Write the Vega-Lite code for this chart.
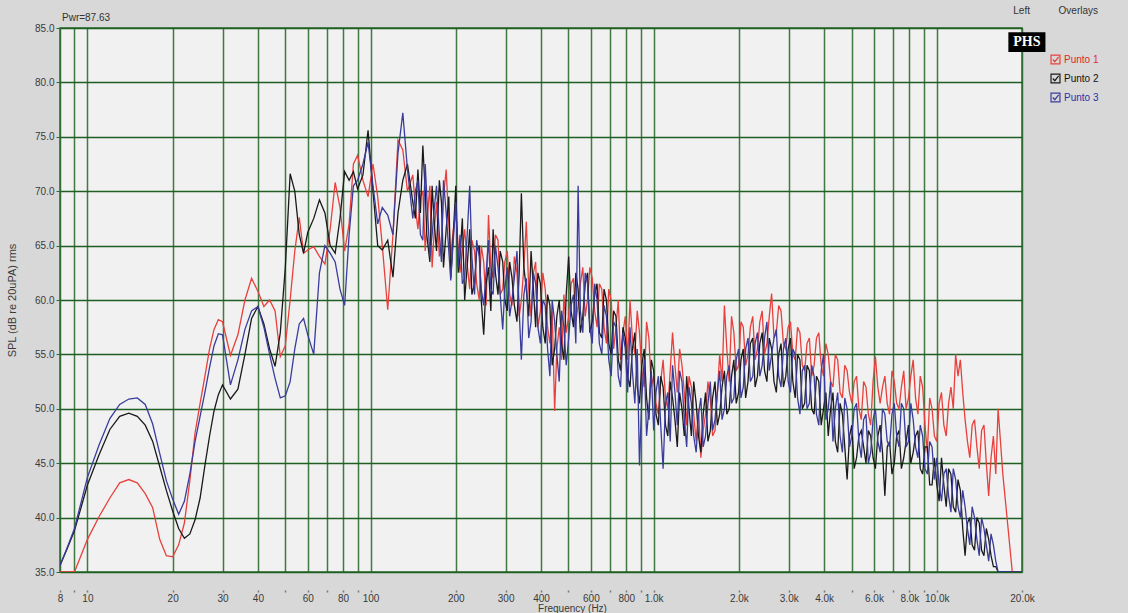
{
"$schema": "https://vega.github.io/schema/vega-lite/v6.json",
"width": 962, "height": 544,
"autosize": "none",
"padding": {"left": 60, "top": 28, "right": 106, "bottom": 41},
"background": "#d8d8d8",
"config": {"view": {"fill": "#f1f1f1", "stroke": "#2e6b30", "strokeWidth": 1.5}, "font": "Liberation Sans"},
"layer": [
{
"data": {"values": [
{"f":8,"a":35,"b":35.6,"c":35.6},
{"f":8.5,"a":35,"b":37.2,"c":37.3},
{"f":9,"a":35,"b":38.8,"c":39.0},
{"f":10,"a":38.0,"b":43.0,"c":43.7},
{"f":11,"a":40.1,"b":45.8,"c":46.7},
{"f":12,"a":41.8,"b":48.1,"c":49.1},
{"f":13,"a":43.2,"b":49.3,"c":50.4},
{"f":14,"a":43.5,"b":49.6,"c":50.9},
{"f":15,"a":43.2,"b":49.3,"c":51.0},
{"f":16,"a":42.2,"b":48.5,"c":50.4},
{"f":17,"a":40.9,"b":47.0,"c":48.6},
{"f":18,"a":38.0,"b":44.7,"c":45.9},
{"f":19,"a":36.5,"b":42.5,"c":43.4},
{"f":20,"a":36.4,"b":40.6,"c":41.7},
{"f":21,"a":37.5,"b":39.0,"c":40.3},
{"f":22,"a":39.5,"b":38.1,"c":41.5},
{"f":23,"a":43.4,"b":38.5,"c":44.0},
{"f":24,"a":47.8,"b":39.8,"c":47.0},
{"f":25,"a":50.5,"b":41.8,"c":49.3},
{"f":26,"a":53.0,"b":44.8,"c":51.5},
{"f":27,"a":55.5,"b":47.5,"c":53.8},
{"f":28,"a":57.3,"b":49.8,"c":55.8},
{"f":29,"a":58.2,"b":51.3,"c":56.9},
{"f":30,"a":58.0,"b":52.2,"c":56.8},
{"f":32,"a":54.9,"b":50.9,"c":52.2},
{"f":34,"a":56.8,"b":51.8,"c":54.5},
{"f":36,"a":60.0,"b":55.0,"c":57.3},
{"f":38,"a":62.0,"b":58.3,"c":59.0},
{"f":40,"a":60.8,"b":59.4,"c":59.4},
{"f":42,"a":59.4,"b":57.8,"c":57.5},
{"f":44,"a":60.0,"b":55.5,"c":55.0},
{"f":46,"a":59.0,"b":53.9,"c":52.8},
{"f":48,"a":54.8,"b":57.0,"c":51.0},
{"f":50,"a":55.8,"b":63.0,"c":51.2},
{"f":52,"a":60.0,"b":71.6,"c":52.5},
{"f":54,"a":64.5,"b":70.0,"c":55.5},
{"f":56,"a":67.6,"b":66.0,"c":57.8},
{"f":58,"a":64.3,"b":64.3,"c":58.3},
{"f":60,"a":64.6,"b":66.2,"c":56.8},
{"f":63,"a":64.9,"b":67.5,"c":55.0},
{"f":66,"a":64.0,"b":69.2,"c":62.5},
{"f":69,"a":63.3,"b":68.0,"c":65.0},
{"f":72,"a":66.5,"b":65.0,"c":64.3},
{"f":75,"a":70.8,"b":64.3,"c":63.5},
{"f":78,"a":68.5,"b":67.5,"c":61.0},
{"f":81,"a":64.5,"b":71.8,"c":59.5},
{"f":84,"a":67.0,"b":71.0,"c":66.0},
{"f":87,"a":72.5,"b":71.8,"c":70.5},
{"f":90,"a":73.3,"b":70.2,"c":71.0},
{"f":94,"a":71.0,"b":71.5,"c":72.5},
{"f":98,"a":69.5,"b":75.6,"c":74.5},
{"f":102,"a":72.5,"b":70.0,"c":70.5},
{"f":106,"a":69.5,"b":65.0,"c":67.0},
{"f":110,"a":65.0,"b":64.6,"c":68.5},
{"f":115,"a":59.1,"b":65.5,"c":67.8},
{"f":120,"a":66.0,"b":62.1,"c":66.0},
{"f":125,"a":74.7,"b":68.0,"c":73.5},
{"f":130,"a":73.8,"b":71.0,"c":77.2},
{"f":135,"a":70.0,"b":72.5,"c":72.0},
{"f":141,"a":71.5,"b":69.0,"c":67.5},
{"f":144,"a":68.5,"b":67.5,"c":70.0},
{"f":147,"a":66.5,"b":72.0,"c":71.0},
{"f":150,"a":69.5,"b":68.0,"c":66.0},
{"f":153,"a":70.0,"b":74.2,"c":65.5},
{"f":156,"a":64.5,"b":70.0,"c":72.5},
{"f":158,"a":67.0,"b":66.0,"c":69.5},
{"f":162,"a":70.5,"b":63.5,"c":64.0},
{"f":165,"a":63.0,"b":70.5,"c":66.0},
{"f":168,"a":66.5,"b":67.0,"c":68.5},
{"f":171,"a":69.0,"b":64.5,"c":70.5},
{"f":175,"a":64.0,"b":71.0,"c":66.0},
{"f":178,"a":65.5,"b":69.0,"c":63.5},
{"f":181,"a":69.5,"b":63.0,"c":71.0},
{"f":185,"a":72.0,"b":66.5,"c":68.0},
{"f":189,"a":67.0,"b":69.5,"c":64.5},
{"f":192,"a":64.0,"b":62.0,"c":61.8},
{"f":196,"a":66.5,"b":66.0,"c":65.5},
{"f":200,"a":68.0,"b":70.5,"c":69.0},
{"f":204,"a":65.0,"b":62.5,"c":63.0},
{"f":207,"a":62.5,"b":64.0,"c":66.0},
{"f":211,"a":64.5,"b":67.5,"c":61.5},
{"f":215,"a":66.5,"b":60.0,"c":62.0},
{"f":220,"a":63.0,"b":63.5,"c":66.5},
{"f":224,"a":61.0,"b":66.5,"c":70.5},
{"f":228,"a":65.5,"b":60.5,"c":64.0},
{"f":233,"a":64.5,"b":61.5,"c":60.5},
{"f":237,"a":61.5,"b":64.5,"c":65.5},
{"f":242,"a":60.0,"b":65.0,"c":64.0},
{"f":246,"a":65.0,"b":60.0,"c":61.0},
{"f":251,"a":63.5,"b":56.8,"c":59.5},
{"f":256,"a":59.5,"b":61.5,"c":62.5},
{"f":261,"a":67.8,"b":63.0,"c":65.5},
{"f":266,"a":63.0,"b":59.0,"c":61.0},
{"f":271,"a":62.0,"b":66.5,"c":60.5},
{"f":276,"a":66.0,"b":62.5,"c":65.0},
{"f":282,"a":65.5,"b":60.5,"c":63.0},
{"f":287,"a":60.5,"b":64.5,"c":60.5},
{"f":293,"a":61.0,"b":63.5,"c":57.3},
{"f":298,"a":63.5,"b":60.0,"c":61.0},
{"f":304,"a":64.5,"b":59.0,"c":63.0},
{"f":310,"a":60.5,"b":63.5,"c":58.5},
{"f":316,"a":59.5,"b":62.0,"c":60.0},
{"f":322,"a":64.0,"b":59.5,"c":62.0},
{"f":329,"a":62.5,"b":58.0,"c":64.5},
{"f":335,"a":58.5,"b":62.5,"c":59.0},
{"f":341,"a":60.0,"b":69.8,"c":54.5},
{"f":348,"a":63.0,"b":63.0,"c":60.5},
{"f":355,"a":67.2,"b":61.0,"c":62.0},
{"f":362,"a":61.0,"b":58.5,"c":56.5},
{"f":369,"a":58.5,"b":64.5,"c":58.0},
{"f":376,"a":62.5,"b":61.0,"c":62.5},
{"f":383,"a":63.5,"b":57.5,"c":61.5},
{"f":390,"a":57.5,"b":62.5,"c":57.5},
{"f":398,"a":59.0,"b":61.5,"c":56.0},
{"f":406,"a":62.5,"b":57.5,"c":60.0},
{"f":414,"a":61.0,"b":56.0,"c":59.5},
{"f":422,"a":57.5,"b":60.5,"c":55.5},
{"f":430,"a":56.0,"b":59.5,"c":53.0},
{"f":438,"a":59.0,"b":54.0,"c":60.0},
{"f":447,"a":49.8,"b":55.5,"c":58.0},
{"f":455,"a":55.5,"b":58.5,"c":55.0},
{"f":464,"a":57.5,"b":60.0,"c":52.5},
{"f":473,"a":54.5,"b":56.0,"c":59.0},
{"f":482,"a":60.5,"b":54.5,"c":57.5},
{"f":491,"a":57.0,"b":60.5,"c":54.0},
{"f":501,"a":58.5,"b":64.0,"c":56.5},
{"f":511,"a":61.5,"b":59.0,"c":59.5},
{"f":521,"a":62.0,"b":57.5,"c":60.5},
{"f":531,"a":58.0,"b":62.5,"c":56.0},
{"f":541,"a":59.5,"b":61.0,"c":70.5},
{"f":551,"a":61.5,"b":57.0,"c":59.0},
{"f":562,"a":63.0,"b":58.5,"c":57.0},
{"f":573,"a":58.5,"b":61.5,"c":62.5},
{"f":584,"a":60.0,"b":62.5,"c":61.5},
{"f":595,"a":63.0,"b":57.0,"c":57.5},
{"f":607,"a":62.0,"b":58.0,"c":56.0},
{"f":619,"a":59.0,"b":60.5,"c":61.5},
{"f":631,"a":57.5,"b":61.5,"c":60.0},
{"f":643,"a":61.5,"b":57.0,"c":56.0},
{"f":656,"a":61.0,"b":56.5,"c":55.0},
{"f":668,"a":57.5,"b":61.0,"c":59.5},
{"f":681,"a":56.0,"b":60.0,"c":58.5},
{"f":694,"a":61.0,"b":56.0,"c":54.5},
{"f":708,"a":60.0,"b":55.0,"c":53.0},
{"f":722,"a":55.5,"b":59.0,"c":58.0},
{"f":736,"a":57.5,"b":58.5,"c":57.5},
{"f":750,"a":60.0,"b":54.5,"c":53.0},
{"f":764,"a":54.5,"b":53.5,"c":52.0},
{"f":779,"a":57.0,"b":57.5,"c":57.0},
{"f":794,"a":58.5,"b":56.5,"c":55.5},
{"f":809,"a":54.5,"b":53.0,"c":51.5},
{"f":825,"a":60.0,"b":52.0,"c":57.5},
{"f":841,"a":56.5,"b":55.5,"c":53.5},
{"f":858,"a":55.0,"b":57.0,"c":50.5},
{"f":875,"a":59.0,"b":52.0,"c":55.5},
{"f":891,"a":57.0,"b":50.5,"c":44.8},
{"f":908,"a":53.5,"b":54.0,"c":51.0},
{"f":926,"a":52.0,"b":55.5,"c":54.5},
{"f":944,"a":58.0,"b":51.0,"c":47.5},
{"f":962,"a":56.5,"b":49.0,"c":50.0},
{"f":981,"a":52.0,"b":54.5,"c":53.5},
{"f":1000,"a":53.0,"b":53.5,"c":48.0},
{"f":1019,"a":50.5,"b":49.5,"c":51.5},
{"f":1039,"a":49.5,"b":48.5,"c":53.0},
{"f":1059,"a":52.5,"b":53.0,"c":48.5},
{"f":1080,"a":54.5,"b":52.0,"c":44.5},
{"f":1101,"a":51.0,"b":48.5,"c":50.5},
{"f":1122,"a":50.0,"b":47.5,"c":51.5},
{"f":1144,"a":53.5,"b":52.5,"c":47.0},
{"f":1166,"a":57.0,"b":51.0,"c":54.0},
{"f":1189,"a":54.0,"b":49.0,"c":51.5},
{"f":1212,"a":51.5,"b":46.5,"c":48.5},
{"f":1235,"a":55.5,"b":51.5,"c":53.5},
{"f":1259,"a":54.0,"b":50.0,"c":52.5},
{"f":1283,"a":51.5,"b":47.5,"c":49.0},
{"f":1308,"a":48.5,"b":53.0,"c":46.5},
{"f":1333,"a":53.0,"b":50.0,"c":52.0},
{"f":1359,"a":52.0,"b":47.5,"c":50.5},
{"f":1385,"a":49.5,"b":52.5,"c":47.5},
{"f":1413,"a":47.0,"b":50.5,"c":46.0},
{"f":1440,"a":50.0,"b":47.5,"c":49.5},
{"f":1468,"a":45.5,"b":46.0,"c":51.0},
{"f":1496,"a":48.0,"b":49.5,"c":46.5},
{"f":1525,"a":49.5,"b":51.5,"c":47.5},
{"f":1555,"a":52.5,"b":47.0,"c":50.5},
{"f":1585,"a":51.0,"b":48.0,"c":52.5},
{"f":1615,"a":47.5,"b":51.0,"c":48.0},
{"f":1647,"a":48.0,"b":52.5,"c":49.0},
{"f":1679,"a":51.5,"b":48.5,"c":51.5},
{"f":1711,"a":55.0,"b":49.5,"c":53.5},
{"f":1744,"a":52.5,"b":52.0,"c":49.0},
{"f":1778,"a":59.5,"b":53.5,"c":50.0},
{"f":1813,"a":55.5,"b":49.5,"c":53.0},
{"f":1848,"a":52.5,"b":50.0,"c":54.0},
{"f":1884,"a":58.5,"b":53.0,"c":50.5},
{"f":1920,"a":57.0,"b":54.5,"c":51.0},
{"f":1957,"a":53.5,"b":50.5,"c":54.5},
{"f":1995,"a":54.0,"b":51.5,"c":55.5},
{"f":2034,"a":58.0,"b":54.5,"c":51.0},
{"f":2073,"a":57.5,"b":55.5,"c":52.0},
{"f":2113,"a":54.0,"b":51.0,"c":55.5},
{"f":2154,"a":55.0,"b":52.5,"c":56.5},
{"f":2196,"a":57.5,"b":56.0,"c":52.5},
{"f":2239,"a":58.5,"b":56.5,"c":53.0},
{"f":2282,"a":54.5,"b":52.0,"c":56.0},
{"f":2326,"a":55.5,"b":53.0,"c":57.0},
{"f":2371,"a":58.0,"b":56.0,"c":53.0},
{"f":2417,"a":59.0,"b":57.0,"c":54.0},
{"f":2464,"a":55.0,"b":53.5,"c":56.5},
{"f":2512,"a":56.0,"b":52.5,"c":58.0},
{"f":2561,"a":58.5,"b":56.5,"c":53.5},
{"f":2610,"a":60.6,"b":55.5,"c":55.0},
{"f":2661,"a":56.5,"b":52.5,"c":56.5},
{"f":2712,"a":57.0,"b":51.5,"c":57.3},
{"f":2765,"a":59.5,"b":55.0,"c":53.0},
{"f":2818,"a":59.0,"b":56.0,"c":52.0},
{"f":2873,"a":56.0,"b":52.0,"c":55.5},
{"f":2929,"a":55.5,"b":53.0,"c":56.5},
{"f":2986,"a":57.5,"b":55.5,"c":52.5},
{"f":3043,"a":58.0,"b":56.5,"c":51.5},
{"f":3102,"a":55.0,"b":52.5,"c":55.5},
{"f":3162,"a":54.5,"b":51.0,"c":55.0},
{"f":3223,"a":57.5,"b":55.0,"c":51.0},
{"f":3286,"a":57.0,"b":54.5,"c":49.5},
{"f":3350,"a":54.0,"b":50.0,"c":53.5},
{"f":3415,"a":53.5,"b":50.5,"c":54.0},
{"f":3481,"a":56.0,"b":54.0,"c":50.0},
{"f":3548,"a":56.5,"b":53.5,"c":50.5},
{"f":3617,"a":53.0,"b":50.0,"c":54.0},
{"f":3687,"a":54.0,"b":49.5,"c":53.0},
{"f":3759,"a":56.5,"b":53.0,"c":49.5},
{"f":3831,"a":57.0,"b":52.5,"c":48.5},
{"f":3906,"a":54.0,"b":48.5,"c":53.5},
{"f":3981,"a":53.0,"b":50.0,"c":55.0},
{"f":4058,"a":56.0,"b":51.5,"c":49.0},
{"f":4137,"a":55.0,"b":47.5,"c":50.0},
{"f":4217,"a":52.5,"b":50.0,"c":52.5},
{"f":4299,"a":52.0,"b":51.5,"c":47.0},
{"f":4382,"a":55.0,"b":47.0,"c":50.0},
{"f":4467,"a":54.5,"b":46.0,"c":51.5},
{"f":4554,"a":51.5,"b":50.5,"c":47.5},
{"f":4642,"a":51.0,"b":49.5,"c":46.0},
{"f":4732,"a":54.0,"b":46.5,"c":51.0},
{"f":4823,"a":53.5,"b":43.5,"c":50.0},
{"f":4917,"a":51.5,"b":47.5,"c":46.5},
{"f":5012,"a":50.5,"b":48.5,"c":47.5},
{"f":5109,"a":52.5,"b":44.5,"c":50.0},
{"f":5208,"a":53.0,"b":45.5,"c":50.5},
{"f":5309,"a":50.0,"b":47.5,"c":47.0},
{"f":5412,"a":49.0,"b":48.0,"c":45.5},
{"f":5516,"a":52.5,"b":46.5,"c":49.0},
{"f":5623,"a":52.0,"b":45.0,"c":49.5},
{"f":5732,"a":49.5,"b":48.0,"c":45.0},
{"f":5843,"a":48.5,"b":47.5,"c":46.0},
{"f":5956,"a":52.5,"b":45.5,"c":49.0},
{"f":6072,"a":54.8,"b":44.5,"c":50.0},
{"f":6190,"a":52.0,"b":47.5,"c":47.0},
{"f":6310,"a":50.5,"b":48.5,"c":46.0},
{"f":6432,"a":52.0,"b":46.0,"c":50.0},
{"f":6556,"a":53.0,"b":42.0,"c":49.5},
{"f":6683,"a":50.5,"b":46.5,"c":47.0},
{"f":6813,"a":49.5,"b":47.0,"c":46.5},
{"f":6945,"a":53.5,"b":44.0,"c":49.5},
{"f":7079,"a":52.5,"b":45.0,"c":50.5},
{"f":7216,"a":50.5,"b":47.5,"c":47.5},
{"f":7356,"a":50.0,"b":48.0,"c":46.5},
{"f":7499,"a":52.0,"b":44.5,"c":50.5},
{"f":7644,"a":53.5,"b":45.5,"c":50.0},
{"f":7792,"a":50.0,"b":47.0,"c":46.5},
{"f":7943,"a":51.0,"b":48.5,"c":47.0},
{"f":8097,"a":53.0,"b":45.0,"c":50.5},
{"f":8254,"a":54.5,"b":46.0,"c":49.0},
{"f":8414,"a":51.0,"b":47.5,"c":46.5},
{"f":8577,"a":49.5,"b":48.0,"c":45.5},
{"f":8743,"a":53.0,"b":44.5,"c":48.5},
{"f":8913,"a":52.0,"b":44.0,"c":47.5},
{"f":9085,"a":48.5,"b":46.5,"c":44.5},
{"f":9261,"a":46.0,"b":46.5,"c":44.0},
{"f":9441,"a":51.0,"b":43.0,"c":47.0},
{"f":9624,"a":50.0,"b":43.0,"c":46.5},
{"f":9810,"a":47.5,"b":45.5,"c":43.5},
{"f":10000,"a":47.0,"b":43.0,"c":45.5},
{"f":10194,"a":50.5,"b":41.5,"c":43.0},
{"f":10391,"a":51.5,"b":45.5,"c":41.5},
{"f":10593,"a":48.5,"b":43.0,"c":44.0},
{"f":10798,"a":47.5,"b":41.0,"c":44.5},
{"f":11007,"a":50.5,"b":44.5,"c":42.0},
{"f":11220,"a":52.0,"b":44.0,"c":40.5},
{"f":11438,"a":50.0,"b":41.0,"c":44.5},
{"f":11659,"a":55.0,"b":40.5,"c":43.5},
{"f":11885,"a":53.0,"b":43.5,"c":41.0},
{"f":12115,"a":54.5,"b":42.5,"c":40.0},
{"f":12350,"a":51.5,"b":39.0,"c":42.5},
{"f":12589,"a":49.0,"b":36.5,"c":41.0},
{"f":12833,"a":47.0,"b":39.5,"c":39.0},
{"f":13082,"a":45.5,"b":40.0,"c":37.5},
{"f":13335,"a":48.5,"b":37.5,"c":41.0},
{"f":13594,"a":49.0,"b":37.0,"c":40.0},
{"f":13858,"a":46.5,"b":40.0,"c":38.0},
{"f":14125,"a":44.5,"b":39.5,"c":36.5},
{"f":14399,"a":48.0,"b":37.0,"c":40.0},
{"f":14678,"a":48.5,"b":36.5,"c":39.0},
{"f":14963,"a":45.0,"b":39.0,"c":37.5},
{"f":15252,"a":42.0,"b":38.0,"c":36.0},
{"f":15548,"a":45.5,"b":36.5,"c":38.5},
{"f":15849,"a":47.5,"b":35.5,"c":37.5},
{"f":16157,"a":44.0,"b":35.5,"c":36.0},
{"f":16469,"a":50.0,"b":35.0,"c":35.0},
{"f":16788,"a":47.0,"b":35.0,"c":35.0},
{"f":17113,"a":44.0,"b":35.0,"c":35.0},
{"f":17783,"a":39.5,"b":35.0,"c":35.0},
{"f":18478,"a":35.0,"b":35.0,"c":35.0},
{"f":20000,"a":35.0,"b":35.0,"c":35.0}
]},
"transform": [{"fold": ["a", "b", "c"], "as": ["s", "db"]}],
"mark": {"type": "line", "strokeWidth": 1.3, "clip": true},
"encoding": {
"x": {"field": "f", "type": "quantitative",
"scale": {"type": "log", "domain": [8, 20000], "nice": false},
"axis": {"values": [8,9,10,20,30,40,50,60,70,80,90,100,200,300,400,500,600,700,800,900,1000,2000,3000,4000,5000,6000,7000,8000,9000,10000,20000],
"labelExpr": "indexof([9,50,70,90,500,700,900,5000,7000,9000], datum.value) >= 0 ? '' : datum.value >= 1000 ? format(datum.value/1000, '.1f') + 'k' : format(datum.value, 'd')",
"grid": true, "gridColor": "#2e6b30", "gridWidth": 1.5, "gridOpacity": 0.9,
"domain": false, "offset": 18, "tickSize": 2, "tickColor": "#777", "tickWidth": 1.5,
"labelFontSize": 10, "labelColor": "#3a3a3a", "labelPadding": 1, "labelOverlap": false, "labelFlush": false, "labelBound": false,
"title": "Frequency (Hz)", "titleFontSize": 10, "titleFontWeight": "normal", "titleColor": "#3a3a3a", "titlePadding": 0, "titleX": 512}},
"y": {"field": "db", "type": "quantitative",
"scale": {"domain": [35, 85], "nice": false, "zero": false},
"axis": {"values": [35,40,45,50,55,60,65,70,75,80,85], "format": ".1f",
"grid": true, "gridColor": "#1f5f22", "gridWidth": 1.5,
"domain": false, "tickSize": 4, "tickColor": "#2e6b30", "labelFontSize": 10, "labelColor": "#3a3a3a", "labelPadding": 2,
"title": "SPL (dB re 20uPA) rms", "titleFontSize": 11, "titleFontWeight": "normal", "titleColor": "#3a3a3a", "titlePadding": 17}},
"color": {"field": "s", "type": "nominal",
"scale": {"domain": ["a", "b", "c"], "range": ["#e8403c", "#1a1a1a", "#3a3c9c"]},
"legend": {"orient": "none", "legendX": 990, "legendY": -22, "title": "Overlays",
"titleFontSize": 10, "titleFontWeight": "normal", "titleColor": "#333", "titleAnchor": "end", "titlePadding": 38,
"labelFontSize": 10, "labelOffset": 3,
"labelExpr": "datum.label == 'a' ? 'Punto 1' : datum.label == 'b' ? 'Punto 2' : 'Punto 3'",
"labelColor": {"expr": "datum.value == 'a' ? '#e02828' : datum.value == 'b' ? '#111111' : '#2f2fa8'"},
"symbolType": "M-1,-1H1V1H-1Z M-0.6,0L-0.15,0.5L0.7,-0.6", "symbolSize": 80, "symbolStrokeWidth": 1.2,
"rowPadding": 4, "padding": 0}}
}
},
{
"data": {"values": [{}]},
"mark": {"type": "text", "align": "left", "baseline": "middle", "dx": 2, "dy": -10, "fontSize": 10, "color": "#333"},
"encoding": {"x": {"datum": 8, "type": "quantitative"}, "y": {"datum": 85, "type": "quantitative"}, "text": {"value": "Pwr=87.63"}}
},
{
"data": {"values": [{}]},
"mark": {"type": "text", "align": "right", "baseline": "middle", "dx": 8, "dy": -17, "fontSize": 10, "color": "#333"},
"encoding": {"x": {"datum": 20000, "type": "quantitative"}, "y": {"datum": 85, "type": "quantitative"}, "text": {"value": "Left"}}
},
{
"data": {"values": [{}]},
"mark": {"type": "rect", "color": "#000000"},
"encoding": {"x": {"datum": 17900, "type": "quantitative"}, "x2": {"datum": 24200}, "y": {"datum": 84.6, "type": "quantitative"}, "y2": {"datum": 82.8}}
},
{
"data": {"values": [{}]},
"mark": {"type": "text", "align": "center", "baseline": "middle", "font": "Liberation Serif", "fontSize": 14, "fontWeight": "bold", "color": "#ffffff"},
"encoding": {"x": {"datum": 20800, "type": "quantitative"}, "y": {"datum": 83.7, "type": "quantitative"}, "text": {"value": "PHS"}}
}
]
}
